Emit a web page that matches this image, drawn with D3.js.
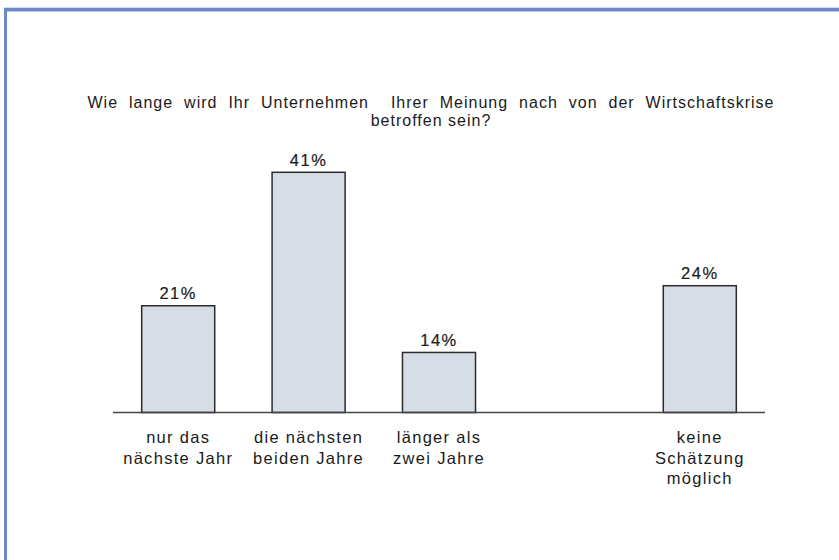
<!DOCTYPE html>
<html lang="de">
<head>
  <meta charset="UTF-8">
  <title>Wirtschaftskrise</title>
  <script src="https://d3js.org/d3.v7.min.js"></script>
  <style>
    body {
      margin: 0;
      padding: 0;
      background-color: #ffffff;
      font-family: Arial, "Liberation Sans", sans-serif;
    }
    svg text {
      fill: #1a1a1a;
    }
  </style>
</head>
<body>
  <div id="chart"></div>

  <script>
    const titleLines = [
      "Wie lange wird Ihr Unternehmen  Ihrer Meinung nach von der Wirtschaftskrise",
      "betroffen sein?"
    ];
    const categories = [
      ["nur das", "nächste Jahr"],
      ["die nächsten", "beiden Jahre"],
      ["länger als", "zwei Jahre"],
      [],
      ["keine", "Schätzung", "möglich"]
    ];
    const values = [21, 41, 14, null, 24];
    const valueLabels = ["21%", "41%", "14%", "", "24%"];

    const width = 839;
    const height = 560;

    const svg = d3.select("#chart")
      .append("svg")
      .attr("width", width)
      .attr("height", height);

    // blue frame (only top and left visible)
    svg.append("line")
      .attr("x1", 5.5).attr("y1", 8)
      .attr("x2", 5.5).attr("y2", height)
      .attr("stroke", "#6f88c6")
      .attr("stroke-width", 3);
    svg.append("line")
      .attr("x1", 4).attr("y1", 9.8)
      .attr("x2", width).attr("y2", 9.8)
      .attr("stroke", "#6f88c6")
      .attr("stroke-width", 3.5);
    svg.append("line")
      .attr("x1", 4).attr("y1", 7.5)
      .attr("x2", width).attr("y2", 7.5)
      .attr("stroke", "#d3dbee")
      .attr("stroke-width", 1);

    const keys = categories.map((c, i) => i);

    const x = d3.scaleBand()
      .domain(keys)
      .range([113, 765])
      .paddingInner(0.44)
      .paddingOuter(0.22);

    const y = d3.scaleLinear()
      .domain([5, 41])
      .range([412.5, 172.3]);

    // title: letters slightly spaced, extra room goes between words
    const title = svg.append("g")
      .selectAll("text")
      .data(titleLines)
      .join("text")
      .attr("x", 431)
      .attr("y", (d, i) => 108 + i * 18)
      .attr("text-anchor", "middle")
      .style("font-size", "16px")
      .style("white-space", "pre")
      .style("letter-spacing", "1px")
      .text(d => d);

    title.filter((d, i) => i === 0).each(function(d) {
      const natural = this.getComputedTextLength();
      const spaces = d.split(" ").length - 1;
      const extra = Math.max(0, (687 - natural) / spaces);
      d3.select(this).style("word-spacing", extra + "px");
    });

    const bars = keys.filter(k => values[k] !== null);

    svg.append("g")
      .selectAll("rect")
      .data(bars)
      .join("rect")
      .attr("x", k => x(k))
      .attr("y", k => y(values[k]))
      .attr("width", x.bandwidth())
      .attr("height", k => y(5) - y(values[k]))
      .attr("fill", "#d6dde6")
      .attr("stroke", "#2b2b2b")
      .attr("stroke-width", 1.5);

    svg.append("g")
      .selectAll("text")
      .data(bars)
      .join("text")
      .attr("x", k => x(k) + x.bandwidth() / 2)
      .attr("y", k => y(values[k]) - 6.5)
      .attr("text-anchor", "middle")
      .style("font-size", "16.5px")
      .style("letter-spacing", "1.5px")
      .style("stroke", "#1a1a1a")
      .style("stroke-width", 0.2)
      .text(k => valueLabels[k]);

    // baseline
    svg.append("line")
      .attr("x1", x.range()[0])
      .attr("x2", x.range()[1])
      .attr("y1", y(5))
      .attr("y2", y(5))
      .attr("stroke", "#444")
      .attr("stroke-width", 1.5);

    // category labels
    const cat = svg.append("g")
      .selectAll("text")
      .data(keys)
      .join("text")
      .attr("text-anchor", "middle")
      .style("font-size", "16.5px")
      .style("letter-spacing", "1.3px");

    cat.selectAll("tspan")
      .data(k => categories[k].map(line => ({ k, line })))
      .join("tspan")
      .attr("x", d => x(d.k) + x.bandwidth() / 2)
      .attr("y", (d, i) => 443 + i * 20.5)
      .text(d => d.line);
  </script>
</body>
</html>
